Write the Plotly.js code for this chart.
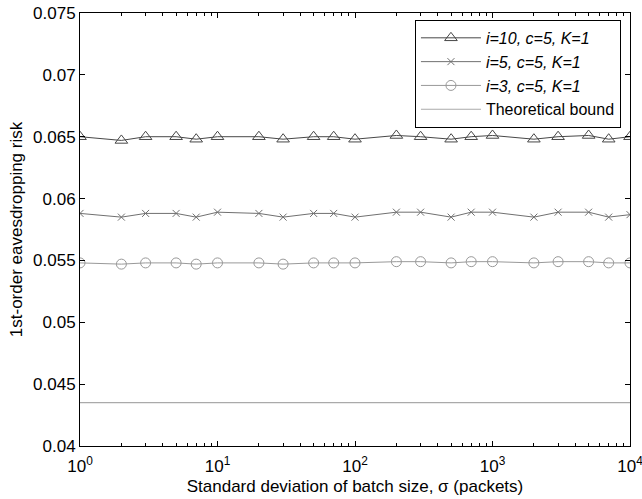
<!DOCTYPE html>
<html>
<head>
<meta charset="utf-8">
<script src="https://cdn.plot.ly/plotly-3.0.1.min.js"></script>
<style>html,body{margin:0;padding:0;background:#fff;overflow:hidden}#plot{width:642px;height:499px}</style>
</head>
<body>
<div id="plot"></div>
<script>
const sigma = [1, 2, 3, 5, 7, 10, 20, 30, 50, 70, 100, 200, 300, 500, 700, 1000, 2000, 3000, 5000, 7000, 10000];
const riskI10 = [0.0650, 0.0647, 0.0650, 0.0650, 0.0648, 0.0650, 0.0650, 0.0648, 0.0650, 0.0650, 0.0648, 0.0651, 0.0650, 0.0648, 0.0650, 0.0651, 0.0648, 0.0650, 0.0651, 0.0648, 0.0650];
const riskI5 = [0.0588, 0.0585, 0.0588, 0.0588, 0.0585, 0.0589, 0.0588, 0.0585, 0.0588, 0.0588, 0.0585, 0.0589, 0.0589, 0.0585, 0.0589, 0.0589, 0.0585, 0.0589, 0.0589, 0.0585, 0.0587];
const riskI3 = [0.0548, 0.0547, 0.0548, 0.0548, 0.0547, 0.0548, 0.0548, 0.0547, 0.0548, 0.0548, 0.0548, 0.0549, 0.0549, 0.0548, 0.0549, 0.0549, 0.0548, 0.0549, 0.0549, 0.0548, 0.0548];
const boundX = [1, 10000];
const boundY = [0.0435, 0.0435];
const names = ['<i>i=10, c=5, K=1</i>', '<i>i=5, c=5, K=1</i>', '<i>i=3, c=5, K=1</i>', 'Theoretical bound'];
const xTickVals = [1, 10, 100, 1000, 10000];
const xTickText = ['10<sup>0</sup>', '10<sup>1</sup>', '10<sup>2</sup>', '10<sup>3</sup>', '10<sup>4</sup>'];
const yTickVals = [0.04, 0.045, 0.05, 0.055, 0.06, 0.065, 0.07, 0.075];
const yTickText = ['0.04', '0.045', '0.05', '0.055', '0.06', '0.065', '0.07', '0.075'];

const minorVals = [];
for (let d = 1; d < 10000; d *= 10) { for (let k = 2; k <= 9; k++) minorVals.push(d * k); }

const FONT = 'Liberation Sans, Arial, Helvetica, sans-serif';
const traces = [
  {x: sigma, y: riskI10, name: names[0], mode: 'lines+markers', type: 'scatter',
   line: {color: '#474747', width: 1},
   marker: {symbol: 'triangle-up-open', size: 11, color: '#474747', line: {color: '#474747', width: 1}}},
  {x: sigma, y: riskI5, name: names[1], mode: 'lines+markers', type: 'scatter',
   line: {color: '#707070', width: 1},
   marker: {symbol: 'x-thin-open', size: 7, color: '#707070', line: {color: '#707070', width: 1}}},
  {x: sigma, y: riskI3, name: names[2], mode: 'lines+markers', type: 'scatter',
   line: {color: '#999999', width: 1},
   marker: {symbol: 'circle-open', size: 10, color: '#999999', line: {color: '#999999', width: 1}}},
  {x: boundX, y: boundY, name: names[3], mode: 'lines', type: 'scatter',
   line: {color: '#aaaaaa', width: 1.2}}
];

const layout = {
  width: 642, height: 499,
  margin: {l: 80, r: 12, t: 13, b: 53},
  paper_bgcolor: '#fff', plot_bgcolor: '#fff',
  font: {family: FONT, size: 17, color: '#000'},
  showlegend: true,
  legend: {x: 0.609, y: 0.984, xanchor: 'left', yanchor: 'top', itemwidth: 60,
           bordercolor: '#000', borderwidth: 1, bgcolor: '#fff',
           font: {family: FONT, size: 16, color: '#000'}, tracegroupgap: 0},
  xaxis: {type: 'log', range: [0, 4], tickvals: xTickVals, ticktext: xTickText,
          ticks: 'inside', ticklen: 5, tickcolor: '#000', showgrid: false, zeroline: false,
          showline: true, linecolor: '#000', linewidth: 1, mirror: 'ticks',
          ticklabeloverflow: 'allow', ticklabelstandoff: 5,
          minor: {tickvals: minorVals, ticks: 'inside', ticklen: 3, tickcolor: '#000', showgrid: false},
          tickfont: {family: FONT, size: 17},
          title: {text: 'Standard deviation of batch size, σ (packets)', font: {family: FONT, size: 17}, standoff: 4}},
  yaxis: {range: [0.04, 0.075], tickvals: yTickVals, ticktext: yTickText,
          ticks: 'inside', ticklen: 5, tickcolor: '#000', showgrid: false, zeroline: false,
          showline: true, linecolor: '#000', linewidth: 1, mirror: 'ticks',
          tickfont: {family: FONT, size: 17},
          title: {text: '1st-order eavesdropping risk', font: {family: FONT, size: 17}, standoff: 6}}
};

Plotly.newPlot('plot', traces, layout, {displayModeBar: false, staticPlot: true});
</script>
</body>
</html>
